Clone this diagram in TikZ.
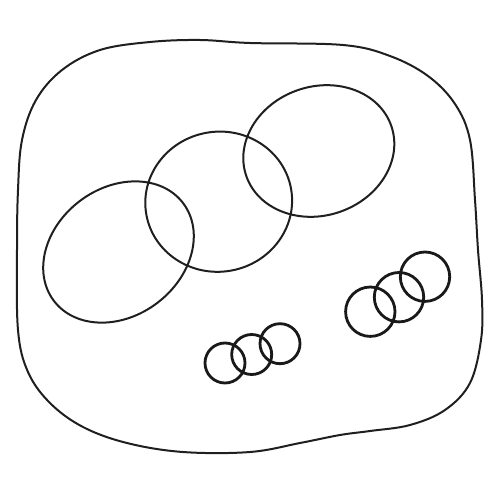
\documentclass[tikz,border=0pt]{standalone}
\begin{document}
\begin{tikzpicture}[x=1pt,y=-1pt,
  gasket/.style={draw=black!88, line width=2pt, line join=round},
  ring/.style={draw=black!88, line width=2pt},
  oring/.style={draw=black!90, line width=2.8pt}]
\useasboundingbox (0,0) rectangle (500,500);
% outer gasket
\draw[gasket] plot[smooth cycle, tension=0.6] coordinates {
 (17,250) (18,190) (22,140) (36,100) (62,70) (100,50) (150,42) (200,40)
 (250,43) (343,45) (390,56) (428,76) (455,104) (470,140) (475,200)
 (478,250) (482,300) (481,340) (470,383) (445,410) (410,425)
 (370,431) (340,435) (300,443) (250,452) (183,452) (127,443)
 (83,427) (50,403) (28,372) (18,330)};
% large rings
\draw[ring, shift={(118.5,252)}, rotate=37] (0,0) ellipse [x radius=81, y radius=64];
\draw[ring, shift={(218.7,201.7)}, rotate=10] (0,0) ellipse [x radius=73.5, y radius=70];
\draw[ring, shift={(318.8,151)}, rotate=19] (0,0) ellipse [x radius=76.7, y radius=64.4];
% small o-rings, lower middle
\draw[oring] (225,363) circle [radius=20];
\draw[oring] (251.7,354.5) circle [radius=20];
\draw[oring] (280,343.7) circle [radius=20];
% small o-rings, right
\draw[oring] (370.3,311.7) circle [radius=24.7];
\draw[oring] (399,297.2) circle [radius=24.7];
\draw[oring] (425,276.7) circle [radius=24.7];
\end{tikzpicture}
\end{document}
